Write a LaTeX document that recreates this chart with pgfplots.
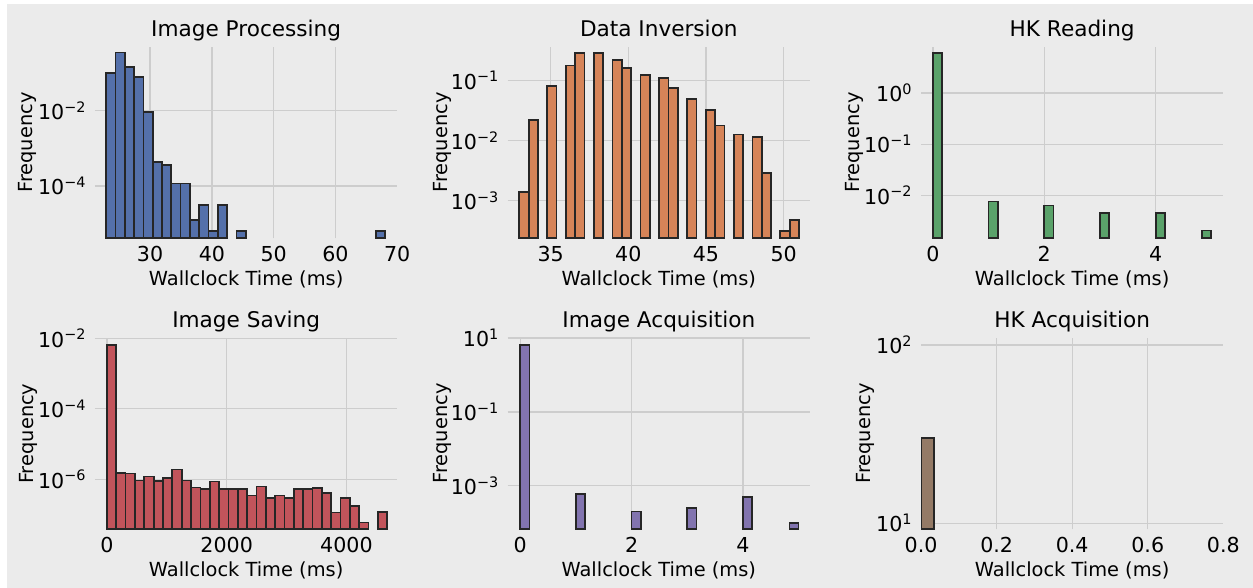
\documentclass[border=0pt]{standalone}
\usepackage{fontspec}
\setmainfont{DejaVu Sans}
\usepackage{pgfplots}
\pgfplotsset{compat=1.18}
\definecolor{bgc}{RGB}{235,235,235}
\definecolor{gridc}{RGB}{205,205,205}
\definecolor{c1}{RGB}{84,112,170}
\definecolor{c2}{RGB}{214,132,88}
\definecolor{c3}{RGB}{90,162,106}
\definecolor{c4}{RGB}{194,84,91}
\definecolor{c5}{RGB}{130,116,175}
\definecolor{c6}{RGB}{148,122,102}
\pgfplotsset{
  every axis/.append style={
    anchor=south west, scale only axis, width=151.15pt, height=95.65pt,
    axis line style={draw=none}, major tick length=0pt,
    tick style={draw=none},
    grid=major, major grid style={color=gridc, line width=0.65pt},
    tick label style={font=\fontsize{10.3}{12}\selectfont},
    xticklabel style={anchor=base, yshift=-11.7pt},
    yticklabel style={anchor=east, inner sep=0pt, xshift=-4pt},
    label style={font=\fontsize{9.7}{11}\selectfont},
    extra x tick style={grid=none},
    xlabel={Wallclock Time (ms)}, ylabel={Frequency},
  },
  every axis x label/.style={at={([yshift=-23.5pt]axis description cs:0.5,0)}, anchor=base},
  every axis y label/.style={rotate=90, anchor=center},
  every axis title/.style={at={([yshift=5.3pt]axis description cs:0.5,1)}, anchor=base, font=\fontsize{10.8}{13}\selectfont},
  mybars/.style={ybar, bar shift=0pt, bar width=#1, draw=black!85, line width=0.85pt},
}
\begin{document}
\begin{tikzpicture}
\fill[white] (0,0) rectangle (626.5pt,294pt);
\fill[bgc] (3.5pt,0) rectangle (626.5pt,292pt);

% Image Processing
\begin{axis}[ymode=log, log origin y=infty, at={(47.5pt,174.85pt)},
  title={Image Processing},
  ylabel style={at={([xshift=-33.7pt]axis description cs:0,0.5)}},
  xmin=21.08, xmax=70.02, ymin=4.12e-6, ymax=0.49,
  xtick={30,40,50,60}, xticklabels={30,40,50,60},
  extra x ticks={70}, extra x tick labels={70},
  ytick={1e-4,1e-2}, yticklabels={10\textsuperscript{−4},10\textsuperscript{−2}}]
\addplot[mybars=1.505, fill=c1] coordinates {
(23.65,0.102) (25.16,0.347) (26.66,0.145) (28.17,0.078) (29.67,0.0092)
(31.18,4.3e-4) (32.68,3.55e-4) (34.19,1.18e-4) (35.69,1.18e-4) (37.20,1.26e-5)
(38.70,3.15e-5) (40.21,6.4e-6) (41.71,3.15e-5) (44.72,6.4e-6) (67.31,6.4e-6)};
\end{axis}

% Data Inversion
\begin{axis}[ymode=log, log origin y=infty, at={(253.85pt,174.85pt)},
  title={Data Inversion},
  ylabel style={at={([xshift=-32.5pt]axis description cs:0,0.5)}},
  xmin=32.23, xmax=51.70, ymin=2.37e-4, ymax=0.358,
  xtick={35,40,45,50}, xticklabels={35,40,45,50},
  ytick={1e-3,1e-2,1e-1}, yticklabels={10\textsuperscript{−3},10\textsuperscript{−2},10\textsuperscript{−1}}]
\addplot[mybars=0.6003, fill=c2] coordinates {
(33.28,1.38e-3) (33.88,0.0222) (35.08,0.0815) (36.28,0.177) (36.88,0.281)
(38.08,0.285) (39.28,0.215) (39.88,0.162) (41.08,0.123) (42.28,0.109)
(42.88,0.0755) (44.09,0.0483) (45.29,0.0317) (45.89,0.0177) (47.09,0.0126)
(48.29,0.0114) (48.89,2.92e-3) (50.09,3.13e-4) (50.69,4.71e-4)};
\end{axis}

% HK Reading
\begin{axis}[ymode=log, log origin y=infty, at={(460.5pt,174.85pt)},
  title={HK Reading},
  ylabel style={at={([xshift=-33.5pt]axis description cs:0,0.5)}},
  xmin=-0.214, xmax=5.215, ymin=1.445e-3, ymax=7.93,
  xtick={0,2,4}, xticklabels={0,2,4},
  ytick={1e-2,1e-1,1}, yticklabels={10\textsuperscript{−2},10\textsuperscript{−1},10\textsuperscript{0}}]
\addplot[mybars=0.1667, fill=c3] coordinates {
(0.0833,6.14) (1.0833,7.6e-3) (2.0833,6.3e-3) (3.0833,4.58e-3) (4.0833,4.58e-3) (4.9167,2.04e-3)};
\end{axis}

% Image Saving
\begin{axis}[ymode=log, log origin y=infty, at={(47.5pt,29.35pt)},
  title={Image Saving},
  ylabel style={at={([xshift=-33.4pt]axis description cs:0,0.5)}},
  xmin=-200, xmax=4850, ymin=3.82e-8, ymax=0.0102,
  xtick={0,2000,4000}, xticklabels={0,2000,4000},
  ytick={1e-6,1e-4,1e-2}, yticklabels={10\textsuperscript{−6},10\textsuperscript{−4},10\textsuperscript{−2}}]
\addplot[mybars=156, fill=c4] coordinates {
(78,6.6e-3) (234,1.51e-6) (390,1.45e-6) (546,9.2e-7) (702,1.2e-6)
(858,8.8e-7) (1014,1.1e-6) (1170,1.9e-6) (1326,9.2e-7) (1482,5.9e-7)
(1638,5.3e-7) (1794,8.7e-7) (1950,5.3e-7) (2106,5.3e-7) (2262,5.3e-7)
(2418,3.5e-7) (2574,6.3e-7) (2730,2.95e-7) (2886,3.5e-7) (3042,2.95e-7)
(3198,5.3e-7) (3354,5.3e-7) (3510,5.8e-7) (3666,4.1e-7) (3822,1.14e-7)
(3978,2.95e-7) (4134,1.74e-7) (4290,5.9e-8) (4602,1.18e-7)};
\end{axis}

% Image Acquisition
\begin{axis}[ymode=log, log origin y=infty, at={(253.85pt,29.35pt)},
  title={Image Acquisition},
  ylabel style={at={([xshift=-32.5pt]axis description cs:0,0.5)}},
  xmin=-0.226, xmax=5.204, ymin=6.64e-5, ymax=10.05,
  xtick={0,2,4}, xticklabels={0,2,4},
  ytick={1e-3,1e-1,10}, yticklabels={10\textsuperscript{−3},10\textsuperscript{−1},10\textsuperscript{1}}]
\addplot[mybars=0.1667, fill=c5] coordinates {
(0.0833,6.46) (1.0833,5.96e-4) (2.0833,2.0e-4) (3.0833,2.51e-4) (4.0833,5.0e-4) (4.9167,1.0e-4)};
\end{axis}

% HK Acquisition
\begin{axis}[ymode=log, log origin y=infty, at={(460.5pt,29.35pt)},
  title={HK Acquisition},
  ylabel style={at={([xshift=-27.7pt]axis description cs:0,0.5)}},
  xmin=-0.0003, xmax=0.8, ymin=9.25, ymax=109.4,
  xtick={0.2,0.4,0.6}, xticklabels={0.2,0.4,0.6},
  extra x ticks={0,0.8}, extra x tick labels={0.0,0.8},
  ytick={10,100}, yticklabels={10\textsuperscript{1},10\textsuperscript{2}}]
\addplot[mybars=0.0333, fill=c6] coordinates {(0.01667,30.0)};
\end{axis}
\end{tikzpicture}
\end{document}
